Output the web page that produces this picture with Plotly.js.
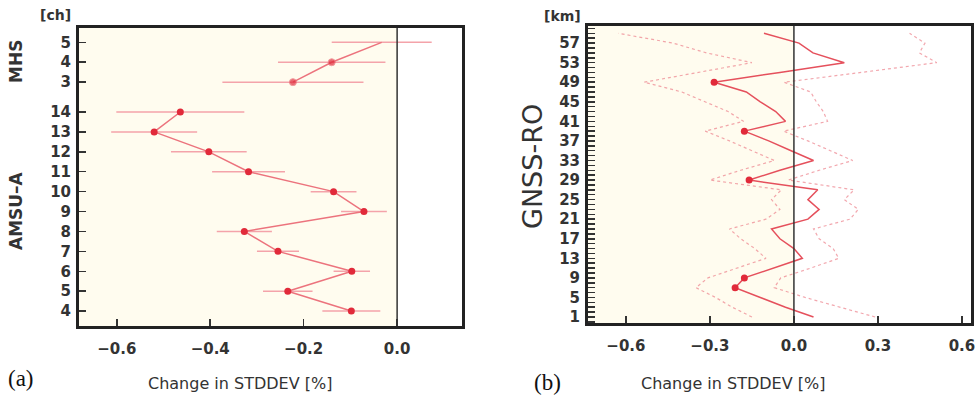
<!DOCTYPE html>
<html><head><meta charset="utf-8">
<script src="https://cdn.plot.ly/plotly-3.0.1.min.js"></script>
<style>html,body{margin:0;padding:0;background:#fff}</style>
</head><body><div id="chart" style="width:978px;height:397px"></div>
<script>
// ---- panel (a): AMSU-A and MHS channels ----
const amsuCh   = [4, 5, 6, 7, 8, 9, 10, 11, 12, 13, 14];
const amsuMean = [-0.098, -0.234, -0.097, -0.255, -0.327, -0.071, -0.136, -0.318, -0.403, -0.520, -0.464];
const amsuErr  = [0.062, 0.053, 0.039, 0.045, 0.059, 0.049, 0.049, 0.078, 0.081, 0.092, 0.137];
const mhsCh    = [3, 4, 5];
const mhsMean  = [-0.223, -0.140, -0.033];
const mhsErr   = [0.151, 0.115, 0.107];
const mhsSig   = [true, true, false];

// ---- panel (b): GNSS-RO by height ----
const heightKm = [1,3,5,7,9,11,13,15,17,19,21,23,25,27,29,31,33,35,37,39,41,43,45,47,49,51,53,55,57,59];
const roMean   = [0.07,-0.03,-0.12,-0.21,-0.177,-0.07,0.03,0.0,-0.05,-0.08,0.05,0.09,0.05,0.085,-0.16,-0.05,0.07,-0.01,-0.09,-0.177,-0.03,-0.065,-0.12,-0.17,-0.285,-0.05,0.18,0.068,0.018,-0.107];
const roCI     = [0.22,0.19,0.16,0.14,0.13,0.13,0.13,0.14,0.14,0.15,0.15,0.14,0.13,0.13,0.14,0.14,0.14,0.14,0.14,0.14,0.15,0.17,0.20,0.23,0.25,0.29,0.33,0.38,0.45,0.52];
const roSigKm  = [7, 9, 29, 39, 49];
const roTickLabels = [1,5,9,13,17,21,25,29,33,37,41,45,49,53,57];

// positions on the channel axis (MHS block sits above AMSU-A with a gap)
const GAP = 1.5;
const amsuPos = amsuCh.map(c => c - amsuCh[0]);
const mhsBase = amsuPos[amsuPos.length - 1] + GAP;
const mhsPos = mhsCh.map(c => mhsBase + (c - mhsCh[0]));

const lineCol = '#ec737d', errCol = '#f4a3aa', dotCol = '#e12a3a';
const traces = [];
traces.push({x: amsuMean, y: amsuPos, xaxis:'x', yaxis:'y', type:'scatter', mode:'lines+markers',
  line:{color:lineCol, width:1.5}, marker:{color:dotCol, size:7},
  error_x:{type:'data', array: amsuErr, color: errCol, thickness:1.5, width:0}, hoverinfo:'skip'});
traces.push({x: mhsMean, y: mhsPos, xaxis:'x', yaxis:'y', type:'scatter', mode:'lines+markers',
  line:{color:lineCol, width:1.5}, marker:{color:dotCol, size: mhsSig.map(s => s ? 7 : 0)},
  error_x:{type:'data', array: mhsErr, color: errCol, thickness:1.5, width:0}, hoverinfo:'skip'});

const roLow = roMean.map((m, i) => m - roCI[i]);
const roHigh = roMean.map((m, i) => m + roCI[i]);
traces.push({x: roLow, y: heightKm, xaxis:'x2', yaxis:'y2', type:'scatter', mode:'lines',
  line:{color:'rgba(236,130,140,0.7)', width:1.2, dash:'dot'}, hoverinfo:'skip'});
traces.push({x: roHigh, y: heightKm, xaxis:'x2', yaxis:'y2', type:'scatter', mode:'lines',
  line:{color:'rgba(236,130,140,0.7)', width:1.2, dash:'dot'}, hoverinfo:'skip'});
traces.push({x: roMean, y: heightKm, xaxis:'x2', yaxis:'y2', type:'scatter', mode:'lines',
  line:{color:'#e5505c', width:1.5}, hoverinfo:'skip'});
traces.push({x: roSigKm.map(k => roMean[heightKm.indexOf(k)]), y: roSigKm, xaxis:'x2', yaxis:'y2',
  type:'scatter', mode:'markers', marker:{color:dotCol, size:7}, hoverinfo:'skip'});

const W = 978, H = 397;
const px = x => x / W, py = y => 1 - y / H;
const tickFont = {family:'DejaVu Sans, Liberation Sans, Arial', size:15, color:'#333', weight:'bold'};
const axCommon = {showgrid:false, zeroline:false, showline:true, mirror:true, linecolor:'#222', linewidth:2,
  ticks:'inside', ticklen:8, tickwidth:1.5, tickcolor:'#333', tickfont:tickFont};

const xr1 = [-0.683, 0.141], xr2 = [-0.739, 0.636];
function ann(text, x, y, font, angle) {
  const a = {text:text, x:px(x), y:py(y), xref:'paper', yref:'paper', showarrow:false,
    xanchor:'center', yanchor:'middle', font:font, borderpad:0};
  if (angle) a.textangle = angle;
  return a;
}
const boldLbl = {family:'DejaVu Sans, Arial', size:17, color:'#333', weight:'bold'};
const titleFont = {family:'DejaVu Sans, Arial', size:16, color:'#333'};
const serifFont = {family:'Liberation Serif, DejaVu Serif, serif', size:23, color:'#111'};
const layout = {
  width: W, height: H, margin:{l:0, r:0, t:0, b:0}, showlegend:false,
  paper_bgcolor:'#fff', plot_bgcolor:'#fff',
  xaxis: Object.assign({}, axCommon, {domain:[px(78), px(463)], range:xr1, anchor:'y',
    tickvals:[-0.6,-0.4,-0.2,0.0], tickformat:'.1f', ticklabelstandoff:7}),
  yaxis: Object.assign({}, axCommon, {domain:[py(327), py(27)], range:[-0.8, 14.27], anchor:'x',
    tickvals: amsuPos.concat(mhsPos), ticktext: amsuCh.concat(mhsCh).map(String), ticklabelstandoff:2}),
  xaxis2: Object.assign({}, axCommon, {domain:[px(587), px(972)], range:xr2, anchor:'y2',
    tickvals:[-0.6,-0.3,0.0,0.3,0.6], tickformat:'.1f', ticklabelstandoff:7}),
  yaxis2: Object.assign({}, axCommon, {domain:[py(324), py(25)], range:[-0.43, 60.7], anchor:'x2',
    tickvals: roTickLabels, ticktext: roTickLabels.map(String), ticklabelstandoff:2,
    minor:{dtick:1, tick0:0, ticks:'inside', ticklen:8, tickwidth:1.5, tickcolor:'#333'}}),
  shapes: [
    {type:'rect', xref:'x', yref:'y domain', x0:xr1[0], x1:0, y0:0, y1:1, fillcolor:'#fffcef', line:{width:0}, layer:'below'},
    {type:'rect', xref:'x2', yref:'y2 domain', x0:xr2[0], x1:0, y0:0, y1:1, fillcolor:'#fffcef', line:{width:0}, layer:'below'},
    {type:'line', xref:'x', yref:'y domain', x0:0, x1:0, y0:0, y1:1, line:{color:'#333', width:1.5}},
    {type:'line', xref:'x2', yref:'y2 domain', x0:0, x1:0, y0:0, y1:1, line:{color:'#333', width:1.5}},
    {type:'rect', xref:'x domain', yref:'y domain', x0:0, x1:1, y0:0, y1:1, line:{color:'#222', width:2}},
    {type:'rect', xref:'x2 domain', yref:'y2 domain', x0:0, x1:1, y0:0, y1:1, line:{color:'#222', width:2}}
  ],
  annotations: [
    ann('[ch]', 55, 15, {family:'DejaVu Sans, Arial', size:14, color:'#333', weight:'bold'}),
    ann('MHS', 16, 62, boldLbl, -90),
    ann('AMSU\u2013A', 16, 211, boldLbl, -90),
    ann('(a)', 21, 378, serifFont),
    ann('Change in STDDEV [%]', 240, 383, titleFont),
    ann('[km]', 562, 16, {family:'DejaVu Sans, Arial', size:14, color:'#333', weight:'bold'}),
    ann('GNSS-RO', 532, 167, {family:'DejaVu Sans, Arial', size:27, color:'#333'}, -90),
    ann('(b)', 547, 382, serifFont),
    ann('Change in STDDEV [%]', 733, 383, titleFont)
  ]
};
Plotly.newPlot('chart', traces, layout, {staticPlot:true, displayModeBar:false});
</script></body></html>
